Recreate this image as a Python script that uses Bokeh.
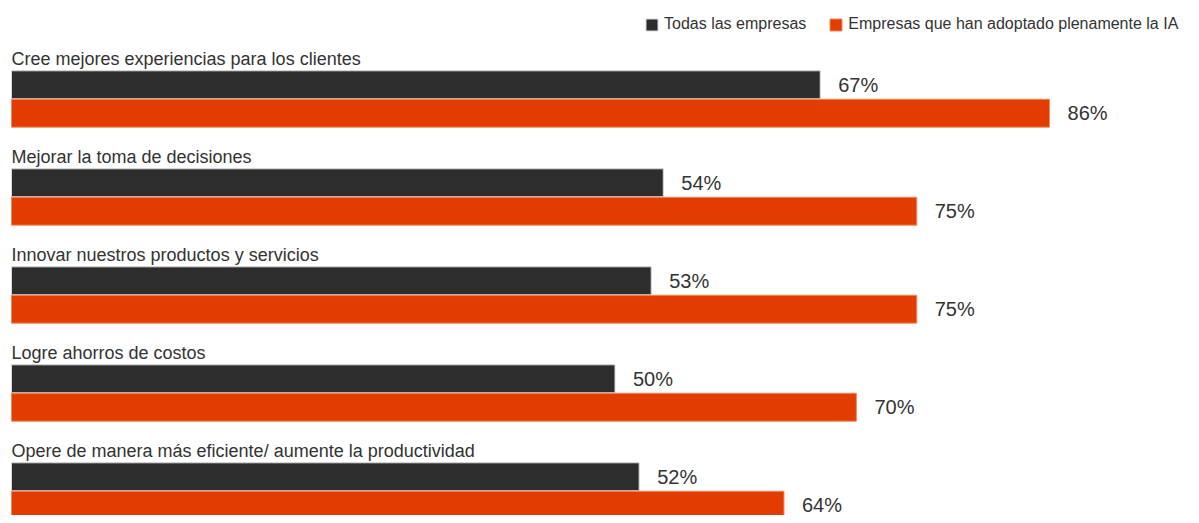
from bokeh.plotting import figure
from bokeh.models import Range1d, ColumnDataSource, Legend, LegendItem
from bokeh.embed import file_html
from bokeh.resources import INLINE
from bokeh.core.properties import value

categories = [
    "Cree mejores experiencias para los clientes",
    "Mejorar la toma de decisiones",
    "Innovar nuestros productos y servicios",
    "Logre ahorros de costos",
    "Opere de manera más eficiente/ aumente la productividad",
]
series_names = ["Todas las empresas", "Empresas que han adoptado plenamente la IA"]
todas = [67, 54, 53, 50, 52]
plenamente = [86, 75, 75, 70, 64]

DARK = "#2d2d2d"
ORANGE = "#e33c00"
TEXT = "#333333"
FONT = "Liberation Sans"

W, H = 1183, 515
px_per_pct = 12.07
x0 = -11 / px_per_pct
p = figure(width=W, height=H, output_backend="svg", toolbar_location=None,
           x_range=Range1d(x0, x0 + W / px_per_pct),
           y_range=Range1d(5.245, -0.01),
           min_border=0, outline_line_color=None)
p.axis.visible = False
p.grid.visible = False
p.background_fill_color = "white"
p.border_fill_color = "white"

n = len(categories)
grp = list(range(n))
src = ColumnDataSource(dict(
    cat=categories,
    todas=todas,
    plen=plenamente,
    ylab=[0.585 + i for i in grp],
    yd=[0.85 + i for i in grp],
    yo=[1.14 + i for i in grp],
    lt=[f"{v}%" for v in todas],
    lp=[f"{v}%" for v in plenamente],
))

r1 = p.hbar(y="yd", left=0, right="todas", height=0.285, source=src,
            fill_color=DARK, line_color="#d8d8d8", line_width=1)
r2 = p.hbar(y="yo", left=0, right="plen", height=0.285, source=src,
            fill_color=ORANGE, line_color="#f08a60", line_width=1)

p.text(x=0, y="ylab", text="cat", source=src, text_font=value(FONT),
       text_font_size="18px", text_color=TEXT, text_baseline="alphabetic",
       text_align="left")
p.text(x="todas", y="yd", text="lt", source=src, x_offset=18,
       text_font=value(FONT), text_font_size="20px", text_color=TEXT,
       text_baseline="middle", text_align="left")
p.text(x="plen", y="yo", text="lp", source=src, x_offset=18,
       text_font=value(FONT), text_font_size="20px", text_color=TEXT,
       text_baseline="middle", text_align="left")

legend = Legend(items=[LegendItem(label=series_names[0], renderers=[r1]),
                       LegendItem(label=series_names[1], renderers=[r2])],
                orientation="horizontal", location=(644, 482),
                glyph_width=15, glyph_height=15, label_height=15,
                label_standoff=5, spacing=22, padding=0, margin=0,
                border_line_color=None, background_fill_alpha=0,
                label_text_font=FONT, label_text_font_size="16px",
                label_text_color=TEXT)
p.add_layout(legend, "center")

open("out.html", "w").write(file_html(p, INLINE))
